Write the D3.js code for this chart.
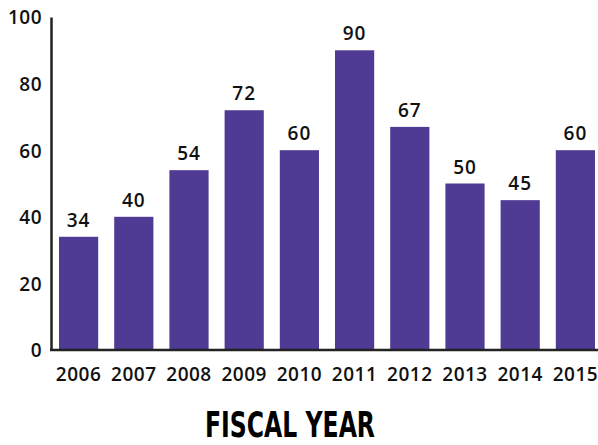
<!DOCTYPE html>
<html>
<head>
<meta charset="utf-8">
<script src="https://cdn.jsdelivr.net/npm/d3@7"></script>
<style>
  html, body { margin: 0; padding: 0; background: #fff; }
  svg { display: block; }
</style>
</head>
<body>
<svg id="chart" width="598" height="445"></svg>
<script>
// Fiscal years and their values
const years = ["2006", "2007", "2008", "2009", "2010", "2011", "2012", "2013", "2014", "2015"];
const values = [34, 40, 54, 72, 60, 90, 67, 50, 45, 60];
const yTicks = [0, 20, 40, 60, 80, 100];

const svg = d3.select("#chart");
const barColor = "#4f3b94";
const font = "'Open Sans', 'DejaVu Sans', sans-serif";

const x = d3.scaleBand()
  .domain(years)
  .range([51, 603])
  .paddingInner(0.29)
  .paddingOuter(0.145);

const y = d3.scaleLinear()
  .domain([0, 100])
  .range([350, 17]);

// Bars
svg.append("g")
  .selectAll("rect")
  .data(years)
  .join("rect")
  .attr("x", d => x(d))
  .attr("width", x.bandwidth())
  .attr("y", (d, i) => y(values[i]))
  .attr("height", (d, i) => y(0) - y(values[i]))
  .attr("fill", barColor);

// Value labels above bars
svg.append("g")
  .selectAll("text")
  .data(years)
  .join("text")
  .attr("x", d => x(d) + x.bandwidth() / 2)
  .attr("y", (d, i) => y(values[i]) - 10)
  .attr("text-anchor", "middle")
  .attr("font-family", font)
  .attr("font-weight", 600)
  .attr("font-size", 19)
  .attr("letter-spacing", 1)
  .attr("fill", "#111")
  .text((d, i) => values[i]);

// Y axis
const yAxis = svg.append("g")
  .attr("transform", "translate(51,0)")
  .call(d3.axisLeft(y).tickValues(yTicks).tickSize(0).tickPadding(9));
yAxis.select(".domain").attr("stroke", "#222").attr("stroke-width", 2.5);
yAxis.selectAll("text")
  .attr("font-family", font)
  .attr("font-weight", 600)
  .attr("font-size", 19)
  .attr("letter-spacing", 0.5)
  .attr("fill", "#111")
  .attr("dy", "0.36em");

// X axis
const xAxis = svg.append("g")
  .attr("transform", "translate(0,350)")
  .call(d3.axisBottom(x).tickSize(0).tickPadding(18));
xAxis.select(".domain").remove();
svg.append("line")
  .attr("x1", 50).attr("x2", 598)
  .attr("y1", 350).attr("y2", 350)
  .attr("stroke", "#222").attr("stroke-width", 2.5);
xAxis.selectAll("text")
  .attr("font-family", font)
  .attr("font-weight", 600)
  .attr("font-size", 19)
  .attr("letter-spacing", 0.5)
  .attr("fill", "#111");

// Axis title
svg.append("text")
  .attr("x", 290)
  .attr("y", 437)
  .attr("text-anchor", "middle")
  .attr("font-family", "'Liberation Sans Narrow', 'DejaVu Sans Condensed', sans-serif")
  .attr("font-weight", 700)
  .attr("font-size", 36)
  .attr("textLength", 170)
  .attr("lengthAdjust", "spacingAndGlyphs")
  .attr("fill", "#000")
  .text("FISCAL YEAR");
</script>
</body>
</html>
